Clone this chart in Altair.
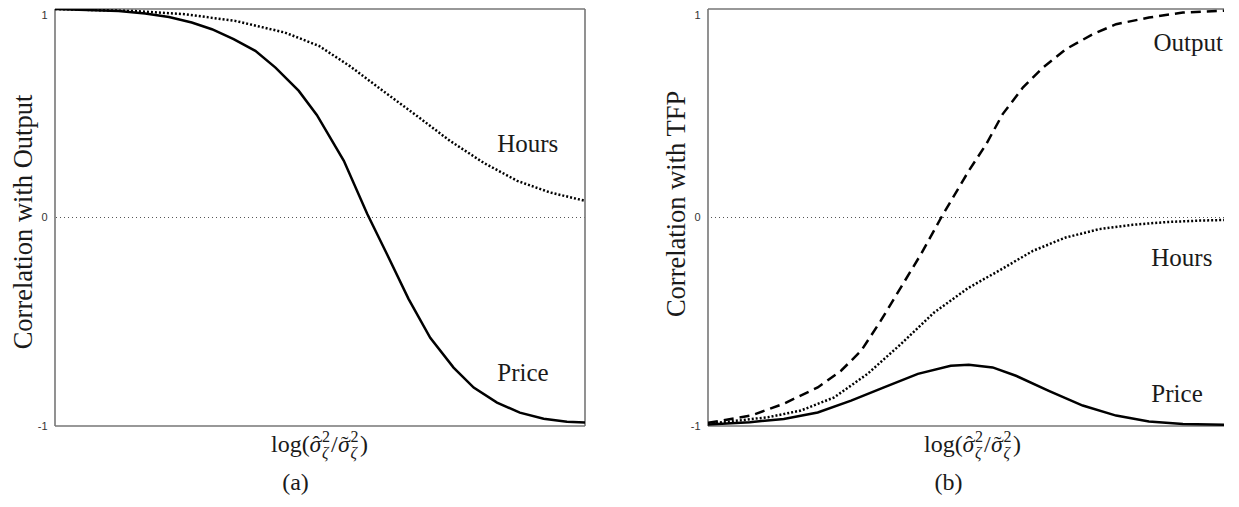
import altair as alt
import pandas as pd

# ---------------- data ----------------
# Panel (a): correlation with Output
a_price_x = [0.0, 0.12, 0.17, 0.215, 0.258, 0.296, 0.337, 0.378, 0.416, 0.46, 0.494, 0.545,
             0.589, 0.626, 0.667, 0.708, 0.752, 0.79, 0.834, 0.877, 0.922, 0.966, 1.0]
a_price_y = [1.0, 0.99, 0.978, 0.962, 0.935, 0.903, 0.855, 0.799, 0.719, 0.607, 0.492, 0.272,
             0.018, -0.174, -0.39, -0.577, -0.72, -0.816, -0.888, -0.936, -0.965, -0.98, -0.983]

a_hours_x = [0.0, 0.151, 0.245, 0.34, 0.434, 0.498, 0.557, 0.62, 0.683, 0.745, 0.809, 0.872, 0.934, 1.0]
a_hours_y = [1.0, 0.99, 0.975, 0.943, 0.887, 0.823, 0.725, 0.605, 0.487, 0.368, 0.262, 0.176, 0.12, 0.08]

# Panel (b): correlation with TFP
b_output_x = [0.0, 0.081, 0.143, 0.207, 0.251, 0.289, 0.326, 0.364, 0.402, 0.44, 0.492, 0.525,
              0.556, 0.594, 0.632, 0.675, 0.726, 0.77, 0.832, 0.896, 0.99, 1.0]
b_output_y = [-0.985, -0.95, -0.893, -0.815, -0.735, -0.639, -0.495, -0.335, -0.175, 0.0, 0.224, 0.352,
              0.496, 0.623, 0.719, 0.807, 0.879, 0.927, 0.959, 0.983, 0.994, 0.995]

b_hours_x = [0.0, 0.113, 0.175, 0.238, 0.301, 0.364, 0.426, 0.491, 0.549, 0.613, 0.675, 0.738,
             0.801, 0.864, 0.926, 1.0]
b_hours_y = [-0.99, -0.958, -0.926, -0.863, -0.75, -0.607, -0.457, -0.338, -0.255, -0.16, -0.096, -0.056,
             -0.035, -0.022, -0.015, -0.01]

b_price_x = [0.0, 0.079, 0.143, 0.207, 0.27, 0.332, 0.396, 0.458, 0.492, 0.537, 0.581, 0.643,
             0.707, 0.77, 0.832, 0.896, 1.0]
b_price_y = [-0.993, -0.982, -0.966, -0.935, -0.878, -0.815, -0.75, -0.711, -0.706, -0.719, -0.759, -0.831,
             -0.902, -0.95, -0.978, -0.99, -0.995]

# curve labels (text, x, y in data units)
a_label_text = ["Hours", "Price"]
a_label_x = [0.892, 0.883]
a_label_y = [0.353, -0.744]
b_label_text = ["Output", "Hours", "Price"]
b_label_x = [0.906, 0.894, 0.885]
b_label_y = [0.837, -0.193, -0.845]

y_ticks = [-1, 0, 1]

SERIF = "Liberation Serif"
SANS = "Liberation Sans"
H = 417
INK = "#1a1a1a"
FRAME = "#767676"


def xs(xmax):
    return alt.Scale(domain=[0, xmax], nice=False, zero=False)


YS = alt.Scale(domain=[-1, 1], nice=False, zero=False)


def line_layer(xv, yv, xmax, dash=None):
    df = pd.DataFrame({"x": xv, "y": yv})
    kw = dict(color="black", strokeWidth=2.5, strokeCap="butt", clip=True)
    if dash:
        kw["strokeDash"] = dash
    return alt.Chart(df).mark_line(**kw).encode(
        x=alt.X("x:Q", scale=xs(xmax), axis=None),
        y=alt.Y("y:Q", scale=YS),
    )


def txt(s, x, y, size, italic=False, align="left"):
    one = pd.DataFrame({"k": [0]})
    return alt.Chart(one).mark_text(
        text=s, font=SERIF, fontSize=size, fontStyle="italic" if italic else "normal",
        align=align, baseline="alphabetic", color=INK,
    ).encode(x=alt.value(x), y=alt.value(y))


def xtitle(center, base):
    s = center - 49
    return [
        txt("log(", s, base, 24),
        txt("\u03c3", s + 38.5, base, 24, italic=True),
        txt("\u02c6", s + 41.5, base - 1, 22),
        txt("2", s + 51, base - 10, 16),
        txt("\u03b6", s + 51, base + 6, 16, italic=True),
        txt("/", s + 60, base, 24),
        txt("\u03c3", s + 67, base, 24, italic=True),
        txt("\u02dc", s + 70, base - 1, 22),
        txt("2", s + 79.5, base - 10, 16),
        txt("\u03b6", s + 79.5, base + 6, 16, italic=True),
        txt(")", s + 89, base, 24),
    ]


def panel(curves, ltext, lx, ly, ytitle, title_y, caption, width, xmax, right_border):
    # frame
    hframe = alt.Chart(pd.DataFrame({"y": [-1, 1]})).mark_rule(
        color=FRAME, strokeWidth=1.6
    ).encode(y=alt.Y("y:Q", scale=YS))
    vx = [0, xmax] if right_border else [0]
    vframe = alt.Chart(pd.DataFrame({"x": vx})).mark_rule(
        color=FRAME, strokeWidth=1.6
    ).encode(x=alt.X("x:Q", scale=xs(xmax), axis=None))
    zero = alt.Chart(pd.DataFrame({"y": [0]})).mark_rule(
        color="#555", strokeWidth=1, strokeDash=[1, 3]
    ).encode(y=alt.Y("y:Q", scale=YS,
                     axis=alt.Axis(values=y_ticks, labelExpr="'' + datum.value",
                                   labelBaseline={"condition": {"test": "datum.value == 1", "value": "top"},
                                                  "value": "middle"},
                                   title=ytitle, titleY=title_y)))
    labels = alt.Chart(pd.DataFrame({"t": ltext, "x": lx, "y": ly})).mark_text(
        font=SERIF, fontSize=25, color=INK, align="center", baseline="middle"
    ).encode(
        x=alt.X("x:Q", scale=xs(xmax), axis=None),
        y=alt.Y("y:Q", scale=YS),
        text="t:N",
    )
    layers = ([zero, hframe, vframe] + curves + [labels] + xtitle(265, 443)
              + [txt(caption, 240.5, 481, 24, align="center")])
    return alt.layer(*layers).properties(width=width, height=H)


WL = 530
WR = 516
XR = WR / 530.0

left = panel(
    [line_layer(a_hours_x, a_hours_y, 1.0, [2, 2]), line_layer(a_price_x, a_price_y, 1.0)],
    a_label_text, a_label_x, a_label_y, "Correlation with Output", 212.5, "(a)", WL, 1.0, True,
)
right = panel(
    [line_layer(b_output_x, b_output_y, XR, [10, 6]), line_layer(b_hours_x, b_hours_y, XR, [2, 2]),
     line_layer(b_price_x, b_price_y, XR)],
    b_label_text, b_label_x, b_label_y, "Correlation with TFP", 194.5, "(b)", WR, XR, False,
)

chart = alt.hconcat(left, right, spacing=77).properties(
    padding={"left": 2, "top": 0, "right": 0, "bottom": 0},
    background="white",
).configure_view(
    strokeWidth=0
).configure_axis(
    grid=False, domain=False, ticks=False,
    labelFont=SANS, labelFontSize=11, labelColor="#333", labelPadding=8,
    titleFont=SERIF, titleFontSize=26.5, titleFontWeight="normal", titleColor=INK,
    titlePadding=0,
)

chart.save("out.html", embed_options={"renderer": "svg", "actions": False})
